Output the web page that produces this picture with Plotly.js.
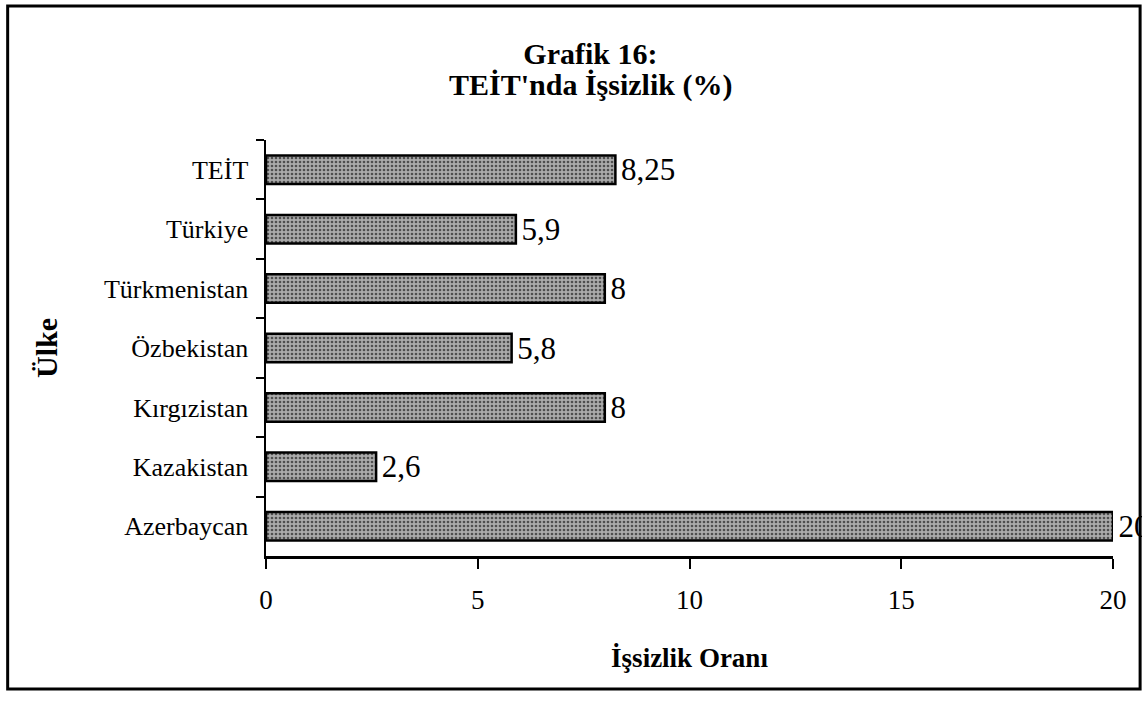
<!DOCTYPE html>
<html>
<head>
<meta charset="utf-8">
<script src="https://cdn.plot.ly/plotly-3.0.1.min.js"></script>
<style>
  html, body { margin: 0; padding: 0; background: #ffffff; }
  #chart { width: 1142px; height: 701px; }
</style>
</head>
<body>
<div id="chart"></div>
<script>
// Data (top-to-bottom order as shown)
const countries = ["TEİT", "Türkiye", "Türkmenistan", "Özbekistan", "Kırgızistan", "Kazakistan", "Azerbaycan"];
const unemployment = [8.25, 5.9, 8, 5.8, 8, 2.6, 20];
const xTickValues = [0, 5, 10, 15, 20];
const titleLine1 = "Grafik 16:";
const titleLine2 = "TEİT'nda İşsizlik (%)";

const valueLabels = unemployment.map(v => "\u200A" + String(v).replace('.', ','));

const serif = "Liberation Serif";

const trace = {
  type: "bar",
  orientation: "h",
  y: countries,
  x: unemployment,
  text: valueLabels,
  textposition: "outside",
  constraintext: "none",
  cliponaxis: false,
  textfont: { family: serif, size: 31, color: "#000000" },
  marker: {
    color: "#a0a0a0",
    line: { color: "#000000", width: 2.5 },
    pattern: { shape: ".", fgcolor: "#4f4f4f", bgcolor: "#ababab", size: 4, solidity: 0.35 }
  },
  hoverinfo: "x+y",
  showlegend: false
};

const layout = {
  width: 1142,
  height: 701,
  margin: { l: 266, r: 29, t: 140, b: 145 },
  paper_bgcolor: "#ffffff",
  plot_bgcolor: "rgba(0,0,0,0)",
  bargap: 0.52,
  title: {
    text: "<b>" + titleLine1 + "</b>",
    font: { family: serif, size: 30, color: "#000000" },
    x: 0.517, xanchor: "center",
    y: 1 - 53 / 701, yanchor: "middle"
  },
  annotations: [
    {
      text: "<b>" + titleLine2 + "</b>",
      xref: "paper", yref: "paper",
      x: (590 - 266) / 847, y: (556 - 85) / 416,
      xanchor: "center", yanchor: "middle",
      showarrow: false,
      font: { family: serif, size: 30, color: "#000000" }
    }
  ],
  xaxis: {
    range: [0, 20],
    tickvals: xTickValues,
    ticktext: xTickValues.map(String),
    ticks: "outside",
    ticklen: 10,
    tickwidth: 2,
    tickcolor: "#000000",
    showline: true,
    linecolor: "#000000",
    linewidth: 2.5,
    showgrid: false,
    zeroline: false,
    ticklabelstandoff: 8,
    tickfont: { family: serif, size: 27, color: "#000000" },
    title: {
      text: "<b>İşsizlik Oranı</b>",
      font: { family: serif, size: 27, color: "#000000" },
      standoff: 34
    }
  },
  yaxis: {
    type: "category",
    autorange: "reversed",
    ticks: "outside",
    tickson: "boundaries",
    ticklen: 8,
    tickwidth: 2,
    tickcolor: "#000000",
    showline: true,
    linecolor: "#000000",
    linewidth: 2.5,
    showgrid: false,
    zeroline: false,
    ticklabelstandoff: 10,
    tickfont: { family: serif, size: 26, color: "#000000" },
    title: {
      text: "<b>Ülke</b>",
      font: { family: serif, size: 30, color: "#000000" },
      standoff: 38
    }
  },
  shapes: [
    {
      type: "rect", xref: "paper", yref: "paper",
      x0: -0.305, x1: 1.032, y0: -0.32, y1: 1.322,
      line: { color: "#000000", width: 3 },
      fillcolor: "rgba(0,0,0,0)",
      layer: "below"
    }
  ]
};

Plotly.newPlot("chart", [trace], layout, { displayModeBar: false, staticPlot: true });
</script>
</body>
</html>
